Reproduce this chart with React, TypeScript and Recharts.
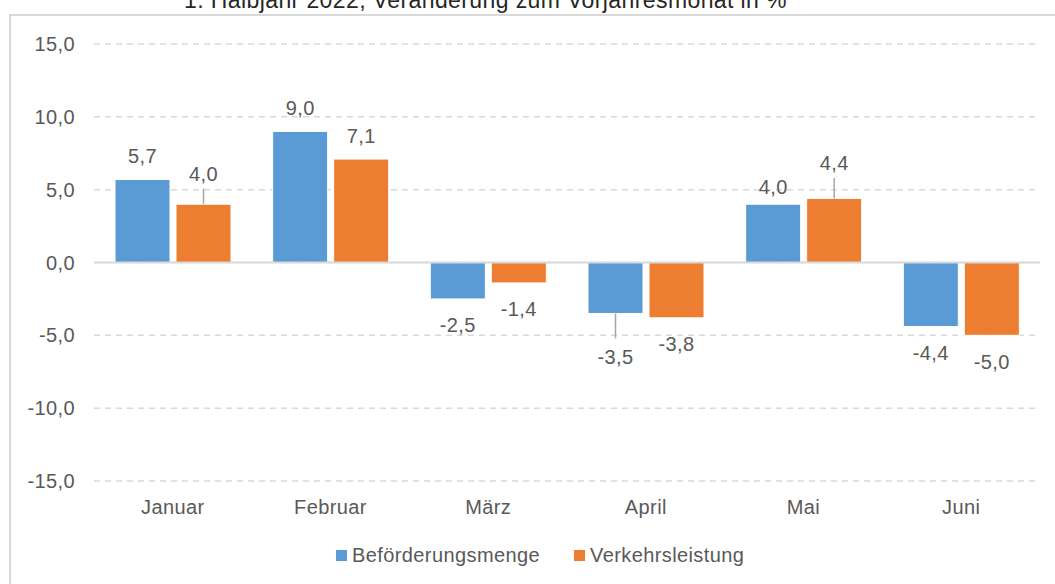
import React from "react";
import { Bar, BarChart, CartesianGrid, LabelList, ReferenceLine, XAxis, YAxis } from "recharts";

const MONTHS = ["Januar", "Februar", "März", "April", "Mai", "Juni"];
const BEFOERDERUNG = [5.7, 9.0, -2.5, -3.5, 4.0, -4.4];
const VERKEHR = [4.0, 7.1, -1.4, -3.8, 4.4, -5.0];
const Y_TICKS = [-15, -10, -5, 0, 5, 10, 15];
const SERIES = [
  { key: "befoerderung", name: "Beförderungsmenge", color: "#5B9BD5" },
  { key: "verkehr", name: "Verkehrsleistung", color: "#ED7D31" }
];
const TITLE = "1. Halbjahr 2022, Veränderung zum Vorjahresmonat in %";

// labels that were dragged away from their default spot (px, + = down)
const LABEL_SHIFT: Record<string, number[]> = {
  befoerderung: [0, 0, 0, 17, 6, 0],
  verkehr: [-7, 0, 0, 0, -12, 0]
};

const data = MONTHS.map((month, i) => ({
  month,
  befoerderung: BEFOERDERUNG[i],
  verkehr: VERKEHR[i]
}));

const FONT = '"Liberation Sans", Arial, sans-serif';
const TEXT = "#595959";
const GRID = "#D9D9D9";
const FS = 20;
const LS = 0.4;

const fmt = (v: number) => v.toFixed(1).replace(".", ",");

function ValueLabel(props: any) {
  const { seriesKey } = props;
  const vb = props.viewBox ?? props;
  const x = Number(vb.x);
  const y = Number(vb.y);
  const w = Number(vb.width);
  const h = Number(vb.height);
  const value = Number(props.value);
  const index = Number(props.index);
  const top = Math.min(y, y + h);
  const bottom = Math.max(y, y + h);
  const cx = x + w / 2;
  const shift = LABEL_SHIFT[seriesKey]?.[index] ?? 0;
  const positive = value >= 0;
  const end = positive ? top : bottom;
  const cy = positive ? end - 23.5 + shift : end + 26 + shift;
  const leader = positive ? shift < -5 : shift > 10;
  return (
    <g>
      {leader ? (
        <line
          x1={cx}
          x2={cx}
          y1={end}
          y2={positive ? cy + 15 : cy - 18}
          stroke="#A6A6A6"
          strokeWidth={1.5}
        />
      ) : null}
      <text
        x={cx}
        y={cy + FS * 0.36}
        textAnchor="middle"
        fill={TEXT}
        fontSize={FS}
        fontFamily={FONT}
        letterSpacing={LS}
      >
        {fmt(value)}
      </text>
    </g>
  );
}

export default function App() {
  return (
    <div
      style={{
        position: "fixed",
        left: 0,
        top: 0,
        width: 1055,
        height: 584,
        overflow: "hidden",
        background: "#fff",
        fontFamily: FONT
      }}
    >
      <div
        style={{
          position: "absolute",
          left: 9,
          top: 14,
          width: 1070,
          height: 600,
          border: `2px solid ${GRID}`,
          boxSizing: "border-box"
        }}
      />
      <div
        style={{
          position: "absolute",
          left: 0,
          top: -11,
          width: 971,
          textAlign: "center",
          fontSize: 23,
          lineHeight: "22px",
          letterSpacing: LS,
          color: "#262626",
          whiteSpace: "nowrap"
        }}
      >
        {TITLE}
      </div>
      <BarChart
        width={1055}
        height={584}
        data={data}
        margin={{ top: 44, right: 15, bottom: 0, left: 0 }}
        barSize={55}
        barGap={6}
        style={{ position: "absolute", left: 0, top: 0 }}
      >
        <CartesianGrid vertical={false} stroke={GRID} strokeWidth={1.5} strokeDasharray="6 5" />
        <XAxis
          dataKey="month"
          axisLine={false}
          tickLine={false}
          tickSize={0}
          tickMargin={19}
          height={103}
          interval={0}
          tick={{ fill: TEXT, fontSize: FS, fontFamily: FONT, letterSpacing: LS }}
        />
        <YAxis
          domain={[-15, 15]}
          ticks={Y_TICKS}
          allowDataOverflow
          axisLine={false}
          tickLine={false}
          tickSize={0}
          tickMargin={19}
          width={94}
          tickFormatter={(v) => fmt(Number(v))}
          tick={{ fill: TEXT, fontSize: FS, fontFamily: FONT, letterSpacing: LS }}
        />
        <ReferenceLine y={0} stroke={GRID} strokeWidth={2} />
        {SERIES.map((s) => (
          <Bar
            key={s.key}
            dataKey={s.key}
            name={s.name}
            fill={s.color}
            stroke="#FFFFFF"
            strokeWidth={1}
            isAnimationActive={false}
          >
            <LabelList
              dataKey={s.key}
              content={(p: any) => <ValueLabel {...p} seriesKey={s.key} />}
            />
          </Bar>
        ))}
      </BarChart>
      <div
        style={{
          position: "absolute",
          left: 336,
          top: 543,
          display: "flex",
          alignItems: "center",
          height: 24,
          fontSize: FS,
          letterSpacing: LS,
          color: TEXT,
          whiteSpace: "nowrap"
        }}
      >
        {SERIES.map((s, i) => (
          <div
            key={s.key}
            style={{ display: "flex", alignItems: "center", marginLeft: i === 0 ? 0 : 34 }}
          >
            <span
              style={{ display: "inline-block", width: 11, height: 11, background: s.color, marginRight: 5 }}
            />
            <span style={{ lineHeight: "24px" }}>{s.name}</span>
          </div>
        ))}
      </div>
    </div>
  );
}
